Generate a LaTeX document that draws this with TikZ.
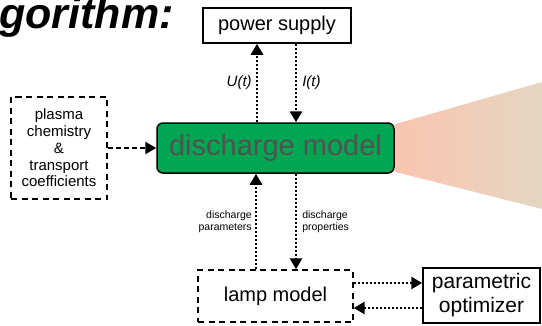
\documentclass[tikz,border=0pt]{standalone}
\usepackage{fontspec}
\setmainfont{Liberation Sans}
\usetikzlibrary{arrows.meta,backgrounds}
\definecolor{modelgreen}{RGB}{0,166,81}
\definecolor{modelgrey}{RGB}{82,82,82}
\definecolor{beamleft}{RGB}{250,197,177}
\definecolor{beamright}{RGB}{229,214,193}
\tikzset{
  solidbox/.style={draw,line width=1.5pt,inner sep=0pt},
  dashbox/.style={draw,line width=1.4pt,dash pattern=on 6pt off 4.5pt,inner sep=0pt},
  dotlink/.style={line width=2.6pt,dash pattern=on 2pt off 2pt,
    -{Triangle[length=11pt,width=12pt]}},
  dashlink/.style={line width=2.4pt,dash pattern=on 5pt off 3pt,
    -{Triangle[length=11pt,width=12pt]}},
}
\begin{document}
\begin{tikzpicture}[x=1pt,y=-1pt]
  \useasboundingbox (0,0) rectangle (542,325);
  % title
  \node[anchor=base east,inner sep=0pt,font=\fontsize{43}{43}\selectfont\bfseries\itshape] (title) at (174,28) {gorithm:};
  % blocks
  \node[solidbox,minimum width=148,minimum height=35,font=\fontsize{20}{22}\selectfont] (supply) at (277,25.5) {power supply};
  \node[draw,line width=1.5pt,rounded corners=6pt,fill=modelgreen,text=modelgrey,
    minimum width=237,minimum height=50,inner sep=0pt,font=\fontsize{29}{30}\selectfont] (dmodel) at (275.5,148) {discharge model};
  \node[dashbox,minimum width=96,minimum height=102,align=center,
    font=\fontsize{15}{16.7}\selectfont] (chem) at (59,148) {plasma\\chemistry\\\&\\transport\\coefficients};
  \node[dashbox,minimum width=155,minimum height=52,font=\fontsize{20}{22}\selectfont] (lamp) at (275.5,296) {lamp model};
  \node[solidbox,minimum width=117,minimum height=55,align=center,
    font=\fontsize{21}{24}\selectfont] (optim) at (481.5,295.5) {parametric\\optimizer};
  % light cone
  \begin{scope}[on background layer]
    \shade[left color=beamleft,right color=beamright]
      ([yshift=-2pt]dmodel.north east) -- (542,82) -- (542,209) -- ([yshift=2pt]dmodel.south east) -- cycle;
  \end{scope}
  % links
  \coordinate (ux) at (257,0);
  \coordinate (ix) at (296,0);
  \coordinate (px) at (256,0);
  \coordinate (ya) at (0,283);
  \coordinate (yb) at (0,308);
  \draw[dotlink] (dmodel.north -| ux) -- (supply.south -| ux)
    node[midway,left,inner sep=4pt,font=\fontsize{15}{16}\selectfont\itshape] (ulab) {U(t)};
  \draw[dotlink] (supply.south -| ix) -- (dmodel.north -| ix)
    node[midway,right,inner sep=5pt,font=\fontsize{15}{16}\selectfont\itshape] (ilab) {I(t)};
  \draw[dashlink] (chem.east) -- (dmodel.west);
  \draw[dotlink] (lamp.north -| px) -- (dmodel.south -| px)
    node[midway,left,align=right,inner sep=3pt,font=\fontsize{10.5}{12}\selectfont] (parlab) {discharge\\parameters};
  \draw[dotlink] (dmodel.south -| ix) -- (lamp.north -| ix)
    node[midway,right,align=left,inner sep=5pt,font=\fontsize{10.5}{12}\selectfont] (proplab) {discharge\\properties};
  \draw[dotlink] (lamp.east |- ya) -- (optim.west |- ya);
  \draw[dotlink] (optim.west |- yb) -- (lamp.east |- yb);
\end{tikzpicture}
\end{document}
